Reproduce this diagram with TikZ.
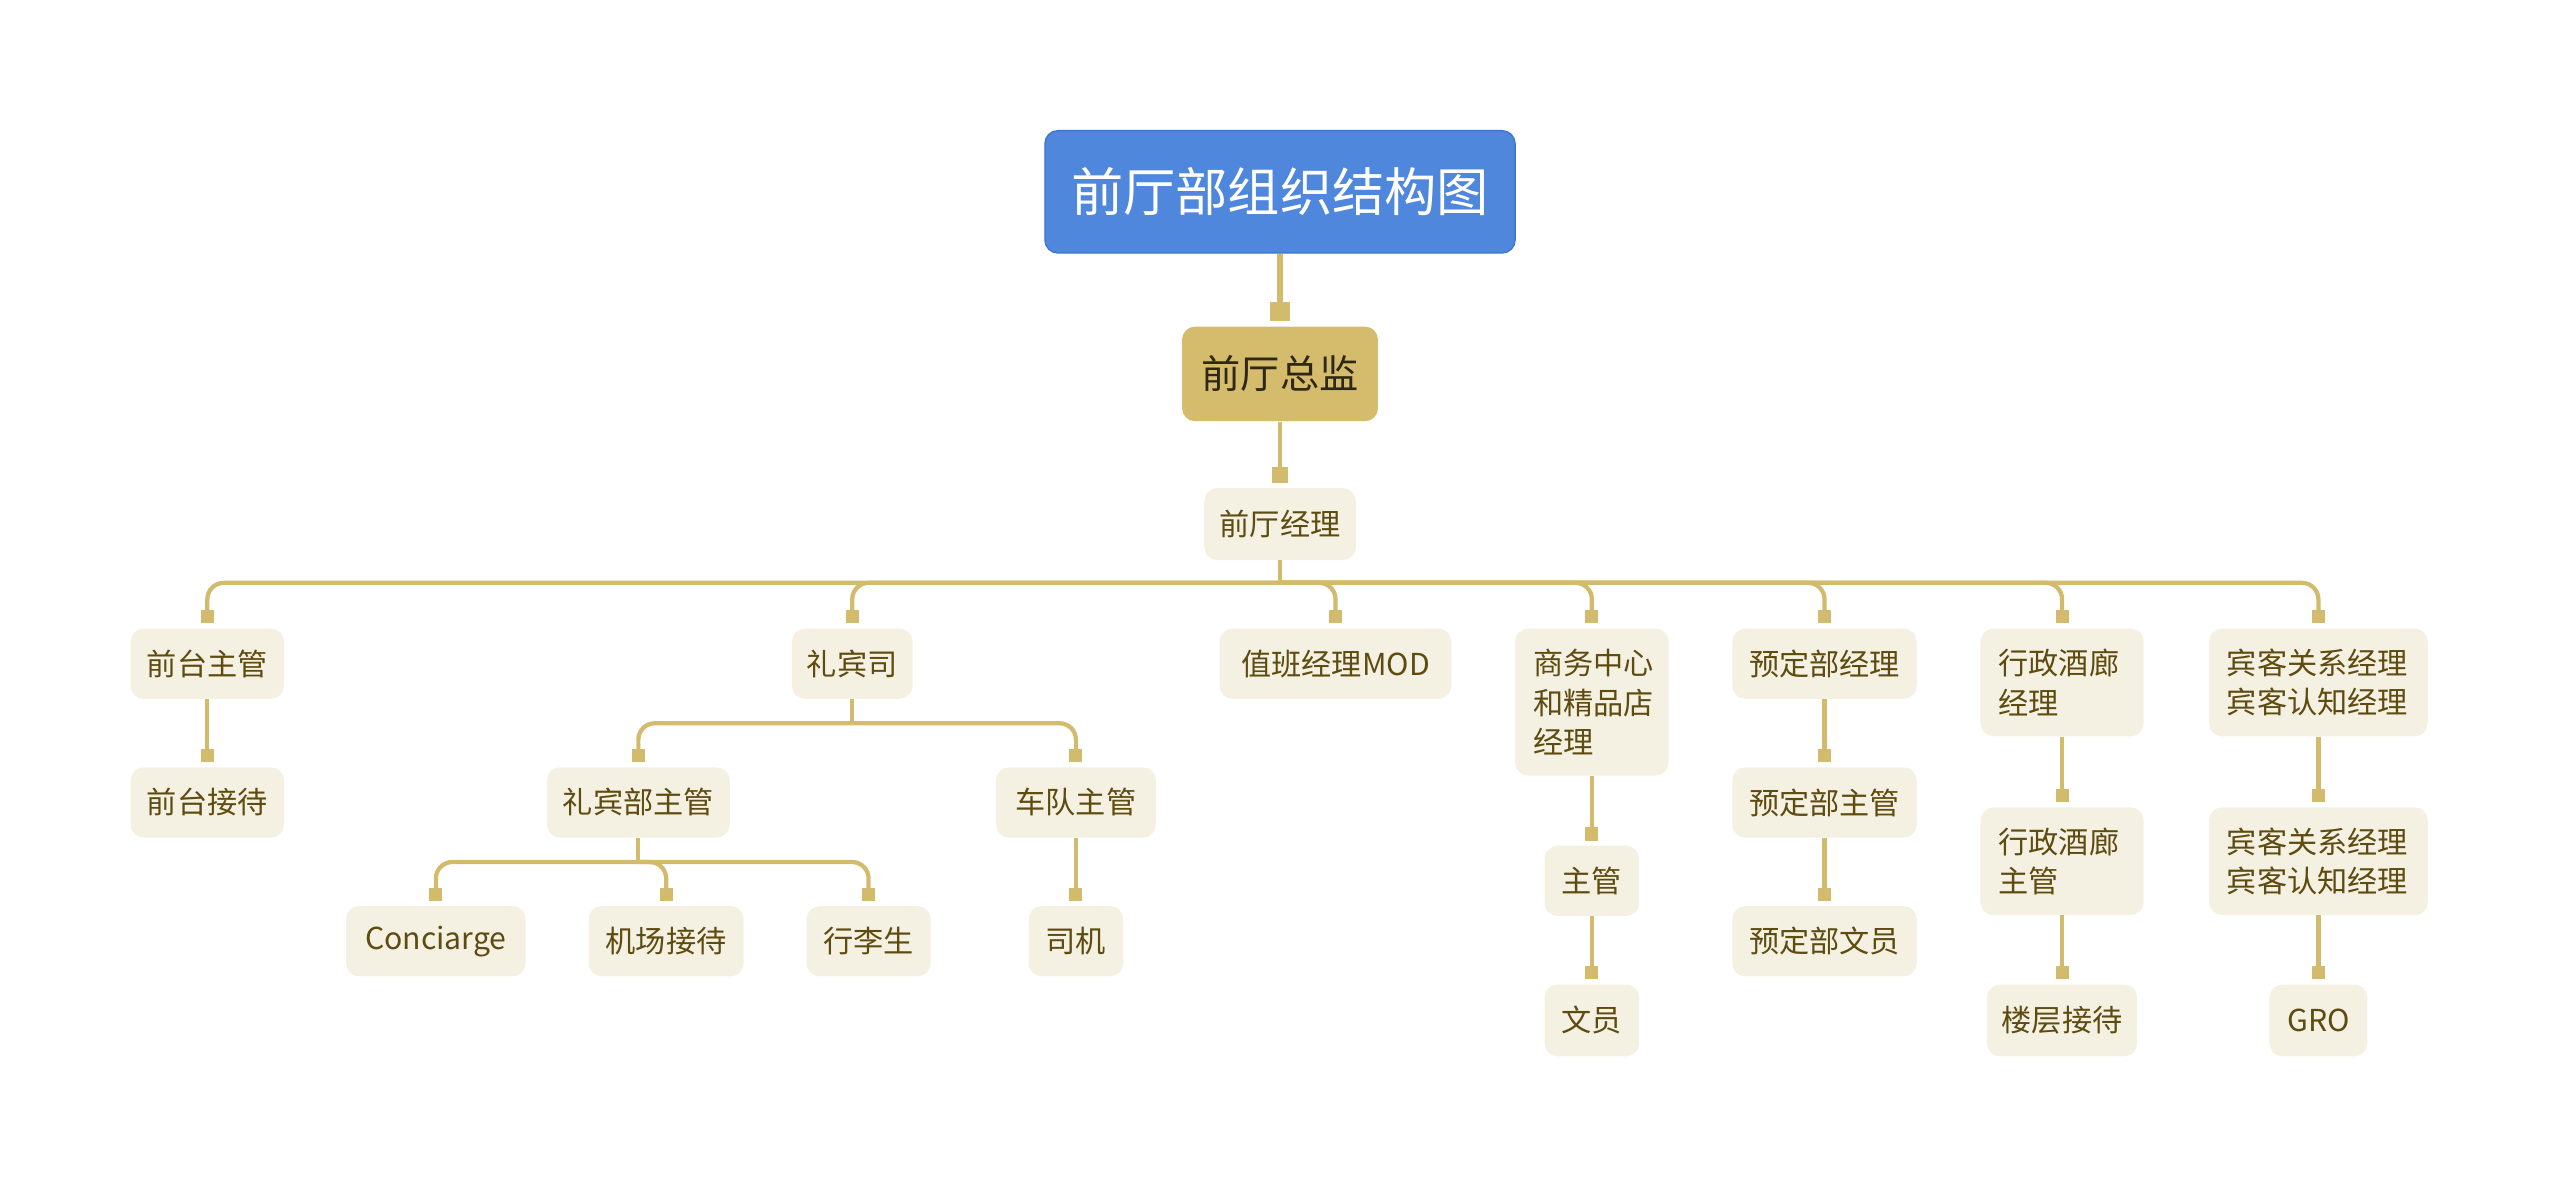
\documentclass[tikz,border=0pt]{standalone}
\usepackage{fontspec}
\setmainfont{Noto Sans CJK SC}
\definecolor{gold}{HTML}{D2BB6C}
\definecolor{cfill}{HTML}{F5F1E2}
\definecolor{ctext}{HTML}{5E4B10}
\definecolor{rootfill}{HTML}{4E87DB}
\definecolor{rootdraw}{HTML}{3F76CB}
\definecolor{zjfill}{HTML}{D4BC6C}
\definecolor{zjtext}{HTML}{2E2715}
\newcommand{\fsn}{\fontsize{18.5}{24}\selectfont}
\newcommand{\mkr}[2]{\fill[gold] ([xshift=-#2/2,yshift=3pt]#1.north) rectangle ([xshift=#2/2,yshift=3pt+#2]#1.north);}
\tikzset{
  box/.style={fill=cfill, rounded corners=8pt, inner sep=0pt, minimum height=43pt, text=ctext, font=\fsn, align=center},
  mbox/.style={fill=cfill, rounded corners=8pt, inner xsep=11pt, inner ysep=0pt, minimum height=66pt, text=ctext, font=\fsn, align=left},
  edgeline/.style={draw=gold, line width=2.6pt},
  busline/.style={draw=gold, line width=2.6pt, rounded corners=10pt},
}
\begin{document}
\begin{tikzpicture}[x=1pt,y=-1pt]
\useasboundingbox (0,0) rectangle (1568,726);
\fill[white] (0,0) rectangle (1568,726);

% nodes
\node[fill=rootfill, draw=rootdraw, line width=0.8pt, rounded corners=8pt, minimum width=288pt, minimum height=75pt, inner sep=0pt, text=white, font=\fontsize{32}{36}\selectfont] (root) at (784,117.5) {前厅部组织结构图};
\node[fill=zjfill, rounded corners=8pt, minimum width=120pt, minimum height=58pt, inner sep=0pt, text=zjtext, font=\fontsize{24}{28}\selectfont] (zj) at (784,229) {前厅总监};
\node[box, minimum width=93pt, minimum height=44pt] (jl) at (784,321) {前厅经理};

\node[box, minimum width=94pt] (qtzg) at (127,406.5) {前台主管};
\node[box, minimum width=74pt] (lbs) at (522,406.5) {礼宾司};
\node[box, minimum width=142pt] (mod) at (818,406.5) {值班经理MOD};
\node[mbox, text width=72pt, minimum height=90pt] (sw) at (975,430) {商务中心\\和精品店\\经理};
\node[box, minimum width=113pt] (ydjl) at (1117.5,406.5) {预定部经理};
\node[mbox, text width=78pt] (xzjl) at (1263,418) {行政酒廊\\经理};
\node[mbox, text width=112pt] (bk1) at (1420,418) {宾客关系经理\\宾客认知经理};

\node[box, minimum width=94pt] (qtjd) at (127,491.5) {前台接待};
\node[box, minimum width=112pt] (lbzg) at (391,491.5) {礼宾部主管};
\node[box, minimum width=98pt] (cdzg) at (659,491.5) {车队主管};
\node[box, minimum width=110pt] (conc) at (267,576.5) {Conciarge};
\node[box, minimum width=95pt] (jcjd) at (408,576.5) {机场接待};
\node[box, minimum width=76pt] (xls) at (532,576.5) {行李生};
\node[box, minimum width=58pt] (sj) at (659,576.5) {司机};
\node[box, minimum width=58pt] (zg) at (975,539.5) {主管};
\node[box, minimum width=58pt, minimum height=44pt] (wy) at (975,625) {文员};
\node[box, minimum width=113pt] (ydzg) at (1117.5,491.5) {预定部主管};
\node[box, minimum width=113pt] (ydwy) at (1117.5,576.5) {预定部文员};
\node[mbox, text width=78pt] (xzzg) at (1263,527.5) {行政酒廊\\主管};
\node[box, minimum width=92pt, minimum height=44pt] (lcjd) at (1263,625) {楼层接待};
\node[mbox, text width=112pt] (bk2) at (1420,527.5) {宾客关系经理\\宾客认知经理};
\node[box, minimum width=60pt, minimum height=44pt] (gro) at (1420,625) {GRO};

% bus coordinates
\coordinate (busA) at (0,357);
\coordinate (busB) at (0,443);
\coordinate (busC) at (0,528);

% top connectors
\draw[draw=gold, line width=3.2pt] (root.south) -- ([yshift=14pt]zj.north);
\mkr{zj}{12pt}
\draw[edgeline] (zj.south) -- ([yshift=12pt]jl.north);
\mkr{jl}{10pt}

% level 2 bus
\draw[edgeline] (jl.south) -- (jl.south |- busA);
\foreach \c in {qtzg,lbs,mod,sw,ydjl,xzjl,bk1}{
  \draw[busline] (jl.south |- busA) -| ([yshift=10pt]\c.north);
  \mkr{\c}{8pt}
}

% 礼宾司 bus
\draw[edgeline] (lbs.south) -- (lbs.south |- busB);
\foreach \c in {lbzg,cdzg}{
  \draw[busline] (lbs.south |- busB) -| ([yshift=10pt]\c.north);
  \mkr{\c}{8pt}
}
% 礼宾部主管 bus
\draw[edgeline] (lbzg.south) -- (lbzg.south |- busC);
\foreach \c in {conc,jcjd,xls}{
  \draw[busline] (lbzg.south |- busC) -| ([yshift=10pt]\c.north);
  \mkr{\c}{8pt}
}

% straight chains
\foreach \a/\b in {qtzg/qtjd, cdzg/sj, sw/zg, zg/wy, ydjl/ydzg, ydzg/ydwy, xzjl/xzzg, xzzg/lcjd, bk1/bk2, bk2/gro}{
  \draw[edgeline] (\a.south) -- ([yshift=10pt]\b.north);
  \mkr{\b}{8pt}
}
\end{tikzpicture}
\end{document}
